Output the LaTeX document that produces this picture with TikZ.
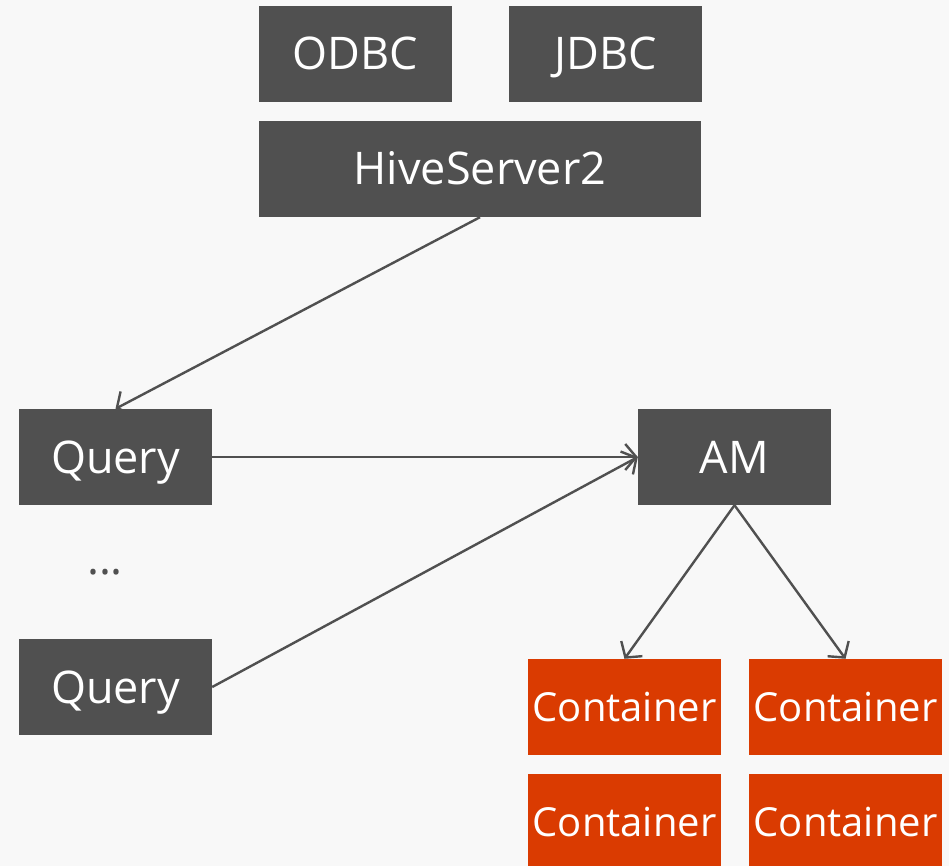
\documentclass[tikz,border=0pt]{standalone}
\usepackage{fontspec}
\setmainfont{Open Sans}
\usetikzlibrary{arrows.meta}
\definecolor{bg}{HTML}{F8F8F8}
\definecolor{boxgray}{HTML}{505050}
\definecolor{boxorange}{HTML}{DA3B01}
\tikzset{
  darkbox/.style={fill=boxgray, text=white, minimum width=193pt, minimum height=96pt,
    inner sep=0pt, text height=32pt, text depth=0pt, font=\fontsize{45}{52}\selectfont},
  orangebox/.style={darkbox, fill=boxorange, text height=28.5pt, font=\fontsize{40}{48}\selectfont},
  link/.style={draw=boxgray, line width=2.4pt, -{Straight Barb[length=11pt, width=26pt, line width=2.4pt]}}
}
\begin{document}
\begin{tikzpicture}[x=1pt, y=-1pt]
  \fill[bg] (0,0) rectangle (949,866);
  \useasboundingbox (0,0) rectangle (949,866);
  % client interfaces and server
  \node[darkbox] (odbc) at (355.5,54) {ODBC};
  \node[darkbox] (jdbc) at (605.5,54) {JDBC};
  \node[darkbox, minimum width=442pt] (hs2) at (480,169) {HiveServer2};
  % queries
  \node[darkbox] (q1) at (115.5,457) {Query};
  \node[font=\fontsize{45}{52}\selectfont, text=boxgray, anchor=base, inner sep=0pt] (dots) at (105,574) {...};
  \node[darkbox] (q2) at (115.5,687) {Query};
  % application master and containers
  \node[darkbox] (am) at (734.5,457) {AM};
  \node[orangebox] (c1) at (624.5,707) {Container};
  \node[orangebox] (c2) at (845.5,707) {Container};
  \node[orangebox] (c3) at (624.5,822) {Container};
  \node[orangebox] (c4) at (845.5,822) {Container};
  % connectors
  \draw[link] (hs2.south) -- (q1.north);
  \draw[link] (q1.east) -- (am.west);
  \draw[link] (q2.east) -- (am.west);
  \draw[link] (am.south) -- (c1.north);
  \draw[link] (am.south) -- (c2.north);
\end{tikzpicture}
\end{document}
